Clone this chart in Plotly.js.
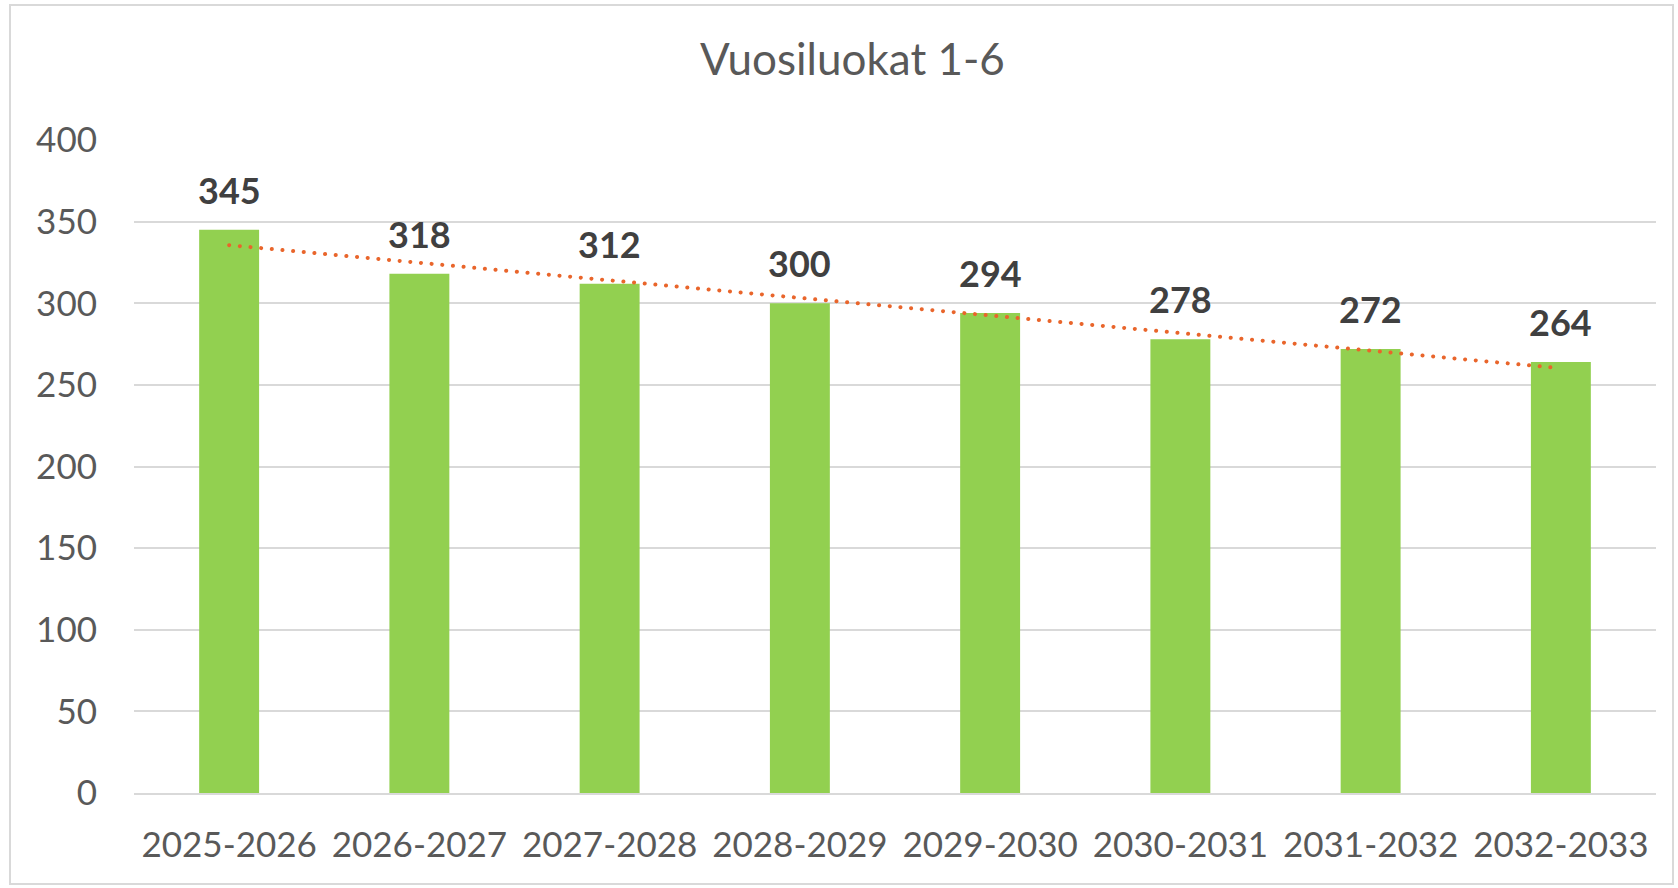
<!DOCTYPE html>
<html>
<head>
<meta charset="utf-8">
<script src="https://cdn.plot.ly/plotly-3.0.1.min.js"></script>
<style>
  html, body { margin: 0; padding: 0; background: #ffffff; }
  #wrap { position: relative; width: 1678px; height: 888px; }
  #chart { position: absolute; left: 0; top: 0; width: 1678px; height: 888px; }
  #frame { position: absolute; left: 9px; top: 4px; width: 1665px; height: 881px;
           border: 2px solid #d9d9d9; pointer-events: none; box-sizing: border-box; }
</style>
</head>
<body>
<div id="wrap">
  <div id="chart"></div>
  <div id="frame"></div>
</div>
<script>
const chartTitle = "Vuosiluokat 1-6";
const categories = ["2025-2026", "2026-2027", "2027-2028", "2028-2029", "2029-2030", "2030-2031", "2031-2032", "2032-2033"];
const values = [345, 318, 312, 300, 294, 278, 272, 264];
const yTicks = [0, 50, 100, 150, 200, 250, 300, 350, 400];

// Linear trendline (least squares over category index), as in the spreadsheet chart
const n = values.length;
const xs = values.map((_, i) => i + 1);
const mx = xs.reduce((a, b) => a + b, 0) / n;
const my = values.reduce((a, b) => a + b, 0) / n;
let sxy = 0, sxx = 0;
for (let i = 0; i < n; i++) { sxy += (xs[i] - mx) * (values[i] - my); sxx += (xs[i] - mx) ** 2; }
const slope = sxy / sxx;
const trend = xs.map(x => my + slope * (x - mx));

const FONT = "Lato, 'Open Sans', sans-serif";

const traces = [
  {
    type: "bar",
    x: categories,
    y: values,
    marker: { color: "#92D050" },
    hoverinfo: "skip"
  },
  {
    type: "scatter",
    mode: "lines",
    x: categories,
    y: trend,
    line: { color: "#E9652B", width: 4, dash: "0.1px,10.6px" },
    hoverinfo: "skip"
  }
];

const annotations = categories.map((c, i) => ({
  x: c, y: values[i], xref: "x", yref: "y",
  text: String(values[i]),
  showarrow: false,
  yshift: 40,
  yanchor: "middle",
  font: { family: FONT, size: 36, color: "#404040", weight: "bold" }
}));

const layout = {
  width: 1678, height: 888,
  margin: { l: 134, r: 22, t: 140, b: 95 },
  paper_bgcolor: "#ffffff",
  plot_bgcolor: "#ffffff",
  showlegend: false,
  bargap: 0.685,
  title: {
    text: chartTitle,
    x: 0.508, xanchor: "center",
    y: 1 - 60 / 888, yanchor: "middle", yref: "container",
    font: { family: FONT, size: 44, color: "#595959" }
  },
  xaxis: {
    type: "category",
    tickfont: { family: FONT, size: 35, color: "#595959" },
    showgrid: false,
    showline: true, linecolor: "#d9d9d9", linewidth: 2,
    ticks: "",
    ticklabelstandoff: 20,
    fixedrange: true
  },
  yaxis: {
    range: [0, 400],
    tickvals: yTicks,
    ticktext: yTicks.map(String),
    tickfont: { family: FONT, size: 35, color: "#595959" },
    showgrid: true, gridcolor: "#d9d9d9", gridwidth: 2,
    zeroline: false,
    showline: false,
    ticks: "",
    ticklabelstandoff: 36,
    fixedrange: true
  },
  annotations: annotations
};

Plotly.newPlot("chart", traces, layout, { displayModeBar: false, staticPlot: true }).then(() => {
  document.querySelectorAll("#chart .scatterlayer path.js-line").forEach(p => {
    p.style.strokeLinecap = "round";
  });
});
</script>
</body>
</html>
